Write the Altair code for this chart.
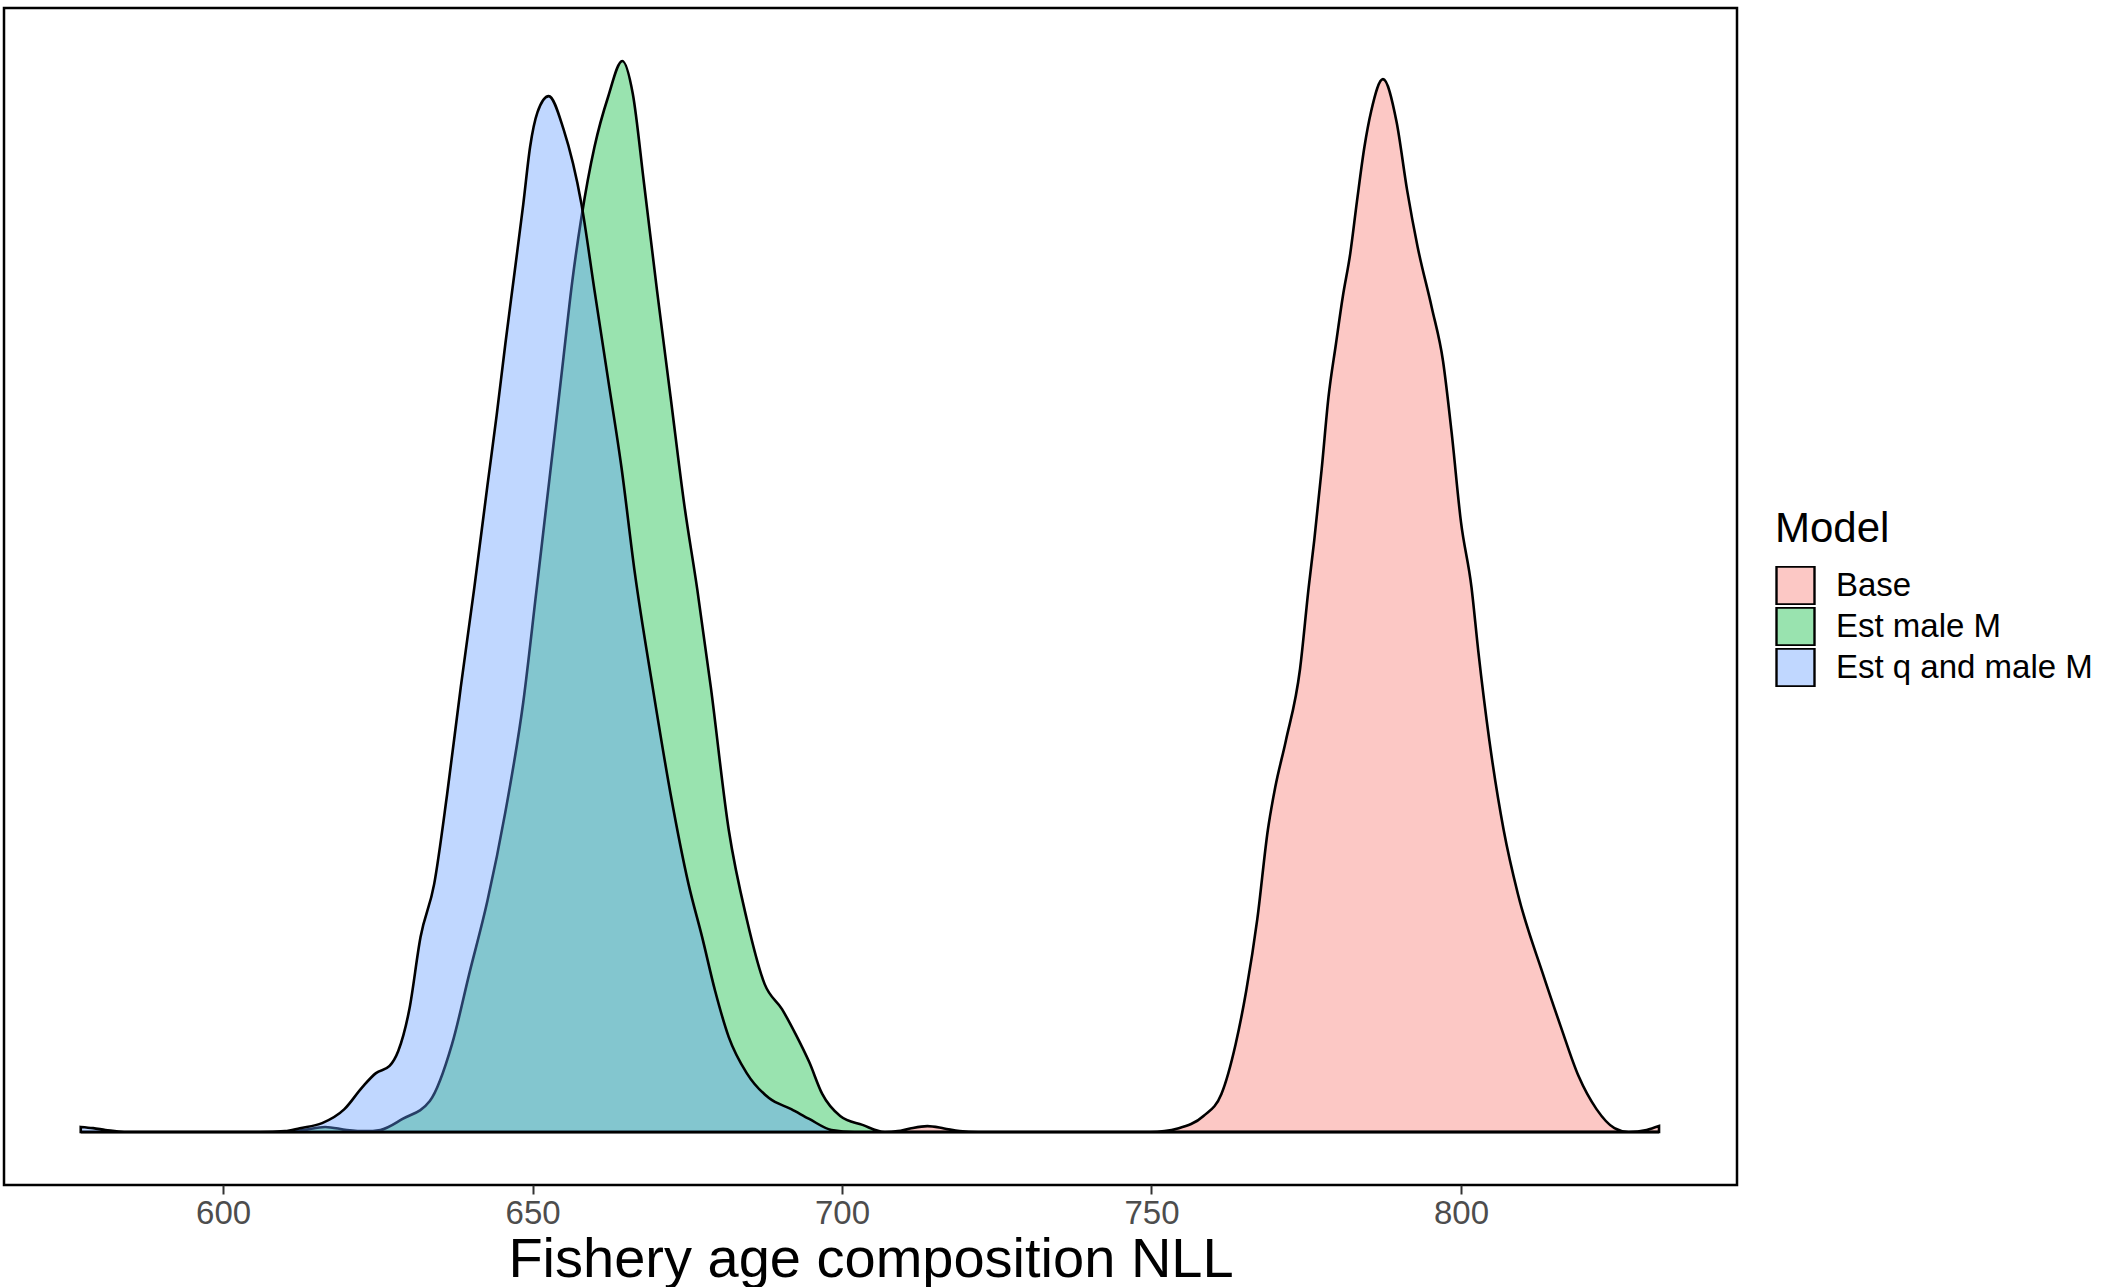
import altair as alt
import pandas as pd

# Model runs, their fill colours (ggplot hue palette at 40% alpha)
models = ["Base", "Est male M", "Est q and male M"]
fills = ["rgba(248,118,109,0.4)", "rgba(0,186,56,0.4)", "rgba(97,156,255,0.4)"]

# Kernel density of the fishery age-composition NLL for each model run
base_x = [577, 700, 707, 709, 711, 713.8, 716.5, 719, 722, 748, 749.8, 754.4,
          758.4, 761.3, 763.6, 765.3, 767.1, 768.8, 770.0, 771.7, 774.0, 775.4,
          776.3, 777.5, 778.6, 779.8, 780.9, 782.1, 783.2, 784.4, 785.5, 787.4,
          789.6, 791.3, 793.0, 795.3, 797.1, 798.5, 800.0, 801.7, 802.8, 804.6,
          806.9, 809.2, 813.2, 816.1, 819.0, 821.9, 824.8, 827.1, 830.0, 832]
base_y = [0, 0, 0, 0.00003, 0.00012, 0.0002, 0.00012, 0.00003, 0, 0, 0, 0.00013,
          0.00054, 0.00128, 0.00296, 0.00474, 0.00716, 0.01015, 0.01159, 0.01314, 0.01556, 0.01831,
          0.01989, 0.02228, 0.0247, 0.02648, 0.02806, 0.0295, 0.03128, 0.0331, 0.03431, 0.03538,
          0.03394, 0.03165, 0.02974, 0.02769, 0.02591, 0.02349, 0.0205, 0.01831, 0.01616, 0.01314,
          0.01015, 0.008, 0.00534, 0.00356, 0.00188, 0.00077, 0.00013, 0, 0.00007, 0.0002]

male_x = [577, 600, 610, 613, 616.5, 620, 623, 625.4, 629.0, 633.4, 637.0, 639.8,
          642.7, 645.6, 648.5, 650.6, 652.2, 653.6, 655.0, 656.4, 657.9, 660.0,
          662.2, 664.5, 666.2, 668.0, 670.1, 672.3, 674.5, 676.6, 678.8, 681.7,
          684.6, 687.5, 690.3, 692.5, 694.7, 696.8, 699.7, 703.3, 706.9, 720, 832]
male_y = [0, 0, 0, 0.00007, 0.00017, 0.00007, 0.00003, 0.00007, 0.00044, 0.00104, 0.00296, 0.00534,
          0.00776, 0.01075, 0.01445, 0.01814, 0.021, 0.02349, 0.02604, 0.02856, 0.03074, 0.0331,
          0.03478, 0.03599, 0.03488, 0.03189, 0.02829, 0.0247, 0.0211, 0.01825, 0.01495, 0.01015,
          0.00716, 0.00497, 0.00413, 0.00329, 0.00235, 0.00128, 0.00054, 0.00024, 0, 0, 0]

qmale_x = [577, 579, 581, 584, 600, 606, 610, 612.4, 616.0, 619.6, 622.5, 624.7,
           626.9, 628.3, 630.1, 631.9, 634.1, 636.2, 638.4, 640.6, 642.7, 644.2,
           645.6, 647.1, 648.5, 649.6, 650.8, 652.6, 655.0, 657.9, 660.0, 662.2,
           664.4, 666.5, 669.4, 672.3, 675.2, 677.4, 679.5, 681.7, 684.6, 688.2,
           691.8, 694.7, 698.3, 702, 832]
qmale_y = [0.00017, 0.00013, 0.00007, 0, 0, 0, 0.00003, 0.00013, 0.0003, 0.00077, 0.00151, 0.00198,
           0.00222, 0.00272, 0.00413, 0.00655, 0.00833, 0.01136, 0.01495, 0.01831, 0.02171, 0.02409,
           0.02648, 0.0289, 0.03118, 0.0331, 0.03427, 0.03481, 0.0337, 0.03118, 0.02829, 0.0253,
           0.02228, 0.01882, 0.01495, 0.01136, 0.00833, 0.00655, 0.00474, 0.00319, 0.00198, 0.00114,
           0.00077, 0.00044, 0.00007, 0, 0]

x_ticks = [600, 650, 700, 750, 800]

frames = []
for name, xs, ys in zip(models, [base_x, male_x, qmale_x], [base_y, male_y, qmale_y]):
    frames.append(pd.DataFrame({"Model": name, "nll": xs, "density": ys}))
df = pd.concat(frames, ignore_index=True)

FONT = "Liberation Sans"

x_enc = alt.X(
    "nll:Q",
    scale=alt.Scale(domain=[564.6, 844.6], nice=False, zero=False),
    axis=alt.Axis(
        values=x_ticks,
        title="Fishery age composition NLL",
        domain=False,
        grid=False,
        ticks=True,
        tickColor="#333333",
        tickWidth=2,
        tickSize=9,
        labelFont=FONT,
        labelFontSize=33,
        labelColor="#4D4D4D",
        labelPadding=3,
        titleFont=FONT,
        titleFontSize=56,
        titleFontWeight="normal",
        titleColor="black",
        titleBaseline="alphabetic",
        titleY=91,
    ),
)
y_enc = alt.Y(
    "density:Q",
    stack=None,
    scale=alt.Scale(domain=[-0.00178, 0.03777], nice=False, zero=False),
    axis=None,
)
fill_enc = alt.Fill(
    "Model:N",
    scale=alt.Scale(domain=models, range=fills),
    legend=alt.Legend(
        title="Model",
        orient="none",
        legendX=1771,
        legendY=501,
        titleFont=FONT,
        titleFontSize=42,
        titleFontWeight="normal",
        titleColor="black",
        titlePadding=15,
        labelFont=FONT,
        labelFontSize=33,
        labelColor="black",
        labelOffset=20,
        labelLimit=500,
        symbolType="square",
        symbolSize=1444,
        symbolStrokeColor="black",
        symbolStrokeWidth=2.4,
        clipHeight=39,
        rowPadding=2,
    ),
)

layers = [
    alt.Chart(df)
    .transform_filter(alt.datum.Model == m)
    .mark_area(interpolate="monotone", stroke="black", strokeWidth=2.6)
    .encode(x=x_enc, y=y_enc, y2=alt.datum(0), fill=fill_enc)
    for m in models
]

chart = (
    alt.layer(*layers)
    .properties(
        width=1733,
        height=1177,
        padding={"left": 4, "top": 8, "right": 368, "bottom": 102},
        autosize=alt.AutoSizeParams(type="none"),
        background="white",
    )
    .configure_view(stroke="black", strokeWidth=2.5)
)

chart.save("out.html", embed_options={"renderer": "svg", "actions": False})
